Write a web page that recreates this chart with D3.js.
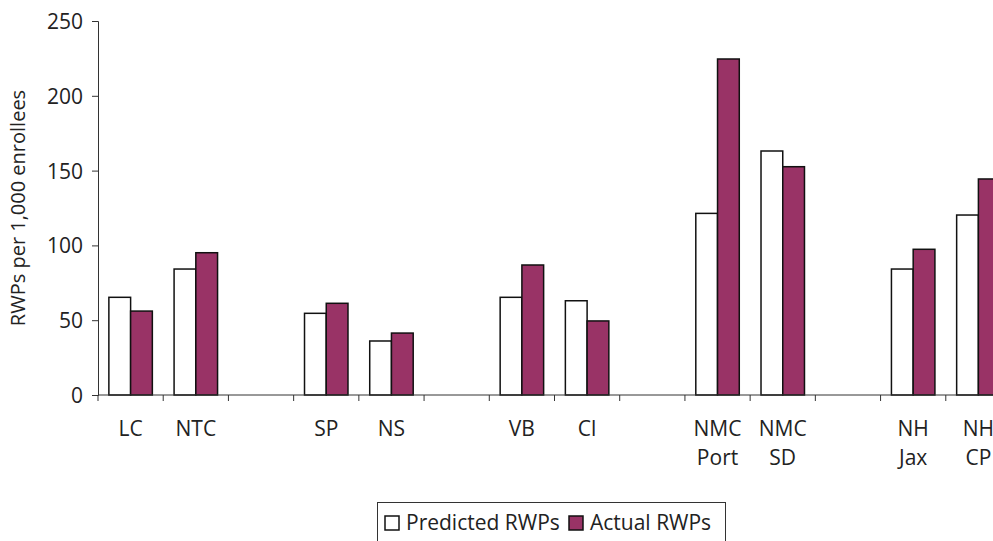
<!DOCTYPE html>
<html>
<head>
<meta charset="utf-8">
<script src="https://cdn.jsdelivr.net/npm/d3@7"></script>
<style>
  body { margin: 0; background: #fff; }
  svg { display: block; overflow: hidden; }
  text { font-family: "Open Sans", Lato, sans-serif; fill: #222; }
</style>
</head>
<body>
<svg class="chart"></svg>
<script>
// Chart values (empty slots are the gaps between groups)
var categories = ["LC", "NTC", "", "SP", "NS", "", "VB", "Cl", "", "NMC\nPort", "NMC\nSD", "", "NH\nJax", "NH\nCP"];
var predicted = [65.3, 84.2, null, 54.6, 36.1, null, 65.3, 63.0, null, 121.4, 163.1, null, 84.2, 120.3];
var actual = [56.1, 95.1, null, 61.3, 41.4, null, 86.9, 49.5, null, 224.6, 152.6, null, 97.4, 144.4];
var yTicks = [0, 50, 100, 150, 200, 250];
var seriesNames = ["Predicted RWPs", "Actual RWPs"];
var seriesColors = ["#ffffff", "#993366"];

var width = 993;
var height = 541;
var marginLeft = 98;
var plotRight = 1011;   // the plot runs past the right edge of the window
var marginTop = 21;
var axisY = 395;

var svg = d3.select(".chart")
    .attr("width", width)
    .attr("height", height);

// x position: one band per slot
var x = d3.scaleBand()
    .domain(d3.range(categories.length))
    .range([marginLeft, plotRight])
    .padding(0);

var xInner = d3.scaleBand()
    .domain([0, 1])
    .range([0, x.bandwidth()])
    .paddingInner(0)
    .paddingOuter(0.5);

// y position
var y = d3.scaleLinear()
    .domain([0, 250])
    .range([axisY, marginTop]);

// bars
var rows = categories.map((c, i) => ({ i: i, values: [predicted[i], actual[i]] }))
    .filter(d => d.values[0] != null);

var groups = svg.selectAll(".group")
    .data(rows)
    .enter()
    .append("g")
    .attr("class", "group")
    .attr("transform", d => `translate(${x(d.i)},0)`);

groups.selectAll("rect")
    .data(d => d.values.map((v, k) => ({ k: k, v: v })))
    .enter()
    .append("rect")
    .attr("x", d => xInner(d.k))
    .attr("y", d => y(d.v))
    .attr("width", xInner.bandwidth())
    .attr("height", d => axisY - y(d.v))
    .attr("fill", d => seriesColors[d.k])
    .attr("stroke", "#111")
    .attr("stroke-width", 1.5);

// y axis
var yAxis = d3.axisLeft(y)
    .tickValues(yTicks)
    .tickSize(6)
    .tickPadding(9);

var yAxisGroup = svg.append("g")
    .attr("transform", `translate(${marginLeft},0)`)
    .call(yAxis);
yAxisGroup.select(".domain").attr("stroke", "#333");
yAxisGroup.selectAll(".tick line").attr("stroke", "#333");
yAxisGroup.selectAll("text")
    .style("font-size", "21px")
    .attr("dy", "0.36em");

// x axis: ticks on the band edges
var xAxisGroup = svg.append("g")
    .attr("transform", `translate(0,${axisY})`);
xAxisGroup.append("line")
    .attr("x1", marginLeft)
    .attr("x2", plotRight)
    .attr("stroke", "#333");
xAxisGroup.selectAll(".xtick")
    .data(d3.range(categories.length + 1))
    .enter()
    .append("line")
    .attr("class", "xtick")
    .attr("x1", i => i < categories.length ? x(i) : plotRight)
    .attr("x2", i => i < categories.length ? x(i) : plotRight)
    .attr("y1", 0)
    .attr("y2", 6)
    .attr("stroke", "#333");

// category labels (two lines where needed)
var labels = svg.selectAll(".xlabel")
    .data(categories.map((c, i) => ({ i: i, lines: c ? c.split("\n") : [] })))
    .enter()
    .append("text")
    .attr("class", "xlabel")
    .attr("text-anchor", "middle")
    .style("font-size", "21px");

labels.selectAll("tspan")
    .data(d => d.lines.map(l => ({ i: d.i, l: l })))
    .enter()
    .append("tspan")
    .attr("x", d => x(d.i) + x.bandwidth() / 2)
    .attr("y", (d, k) => 436 + k * 29)
    .text(d => d.l);

// y axis title
svg.append("text")
    .attr("transform", `translate(25,${(marginTop + axisY) / 2}) rotate(-90)`)
    .attr("text-anchor", "middle")
    .style("font-size", "20px")
    .text("RWPs per 1,000 enrollees");

// legend
var legend = svg.append("g");
legend.append("rect")
    .attr("x", 377.5)
    .attr("y", 502.5)
    .attr("width", 348)
    .attr("height", 50)
    .attr("fill", "#fff")
    .attr("stroke", "#333");

var legendX = [385, 569];
var entry = legend.selectAll(".legend-entry")
    .data(seriesNames)
    .enter()
    .append("g")
    .attr("class", "legend-entry")
    .attr("transform", (d, i) => `translate(${legendX[i]},516)`);

entry.append("rect")
    .attr("width", 14)
    .attr("height", 14)
    .attr("fill", (d, i) => seriesColors[i])
    .attr("stroke", "#111")
    .attr("stroke-width", 1.5);

entry.append("text")
    .attr("x", 21)
    .attr("y", 14)
    .style("font-size", "21px")
    .text(d => d);
</script>
</body>
</html>
